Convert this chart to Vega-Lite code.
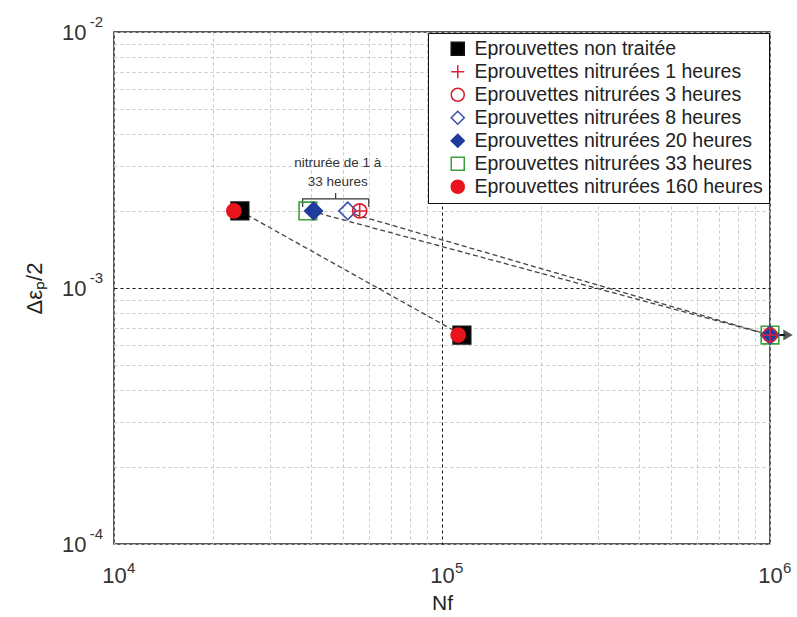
{
  "$schema": "https://vega.github.io/schema/vega-lite/v6.json",
  "width": 656,
  "height": 512,
  "autosize": {"type": "none"},
  "padding": {"left": 114, "top": 32, "right": 27, "bottom": 73},
  "background": "white",
  "config": {
    "font": "Liberation Sans",
    "view": {"stroke": "#222", "strokeWidth": 1.5}
  },
  "datasets": {
    "pts": [
      {"Nf": 24200, "eps": 0.002, "serie": "Eprouvettes non traitée"},
      {"Nf": 115000, "eps": 0.000655, "serie": "Eprouvettes non traitée"},
      {"Nf": 23200, "eps": 0.002, "serie": "Eprouvettes nitrurées 160 heures"},
      {"Nf": 112000, "eps": 0.000655, "serie": "Eprouvettes nitrurées 160 heures"},
      {"Nf": 39000, "eps": 0.002, "serie": "Eprouvettes nitrurées 33 heures"},
      {"Nf": 1000000, "eps": 0.000655, "serie": "Eprouvettes nitrurées 33 heures"},
      {"Nf": 40600, "eps": 0.002, "serie": "Eprouvettes nitrurées 20 heures"},
      {"Nf": 1000000, "eps": 0.000655, "serie": "Eprouvettes nitrurées 20 heures"},
      {"Nf": 51600, "eps": 0.002, "serie": "Eprouvettes nitrurées 8 heures"},
      {"Nf": 1000000, "eps": 0.000655, "serie": "Eprouvettes nitrurées 8 heures"},
      {"Nf": 56100, "eps": 0.002, "serie": "Eprouvettes nitrurées 3 heures"},
      {"Nf": 1000000, "eps": 0.000655, "serie": "Eprouvettes nitrurées 3 heures"},
      {"Nf": 56100, "eps": 0.002, "serie": "Eprouvettes nitrurées 1 heures"},
      {"Nf": 1000000, "eps": 0.000655, "serie": "Eprouvettes nitrurées 1 heures"}
    ],
    "lines": [
      {"g": "a", "Nf": 24200, "eps": 0.002},
      {"g": "a", "Nf": 115000, "eps": 0.000655},
      {"g": "b", "Nf": 42000, "eps": 0.00196},
      {"g": "b", "Nf": 1000000, "eps": 0.000655},
      {"g": "c", "Nf": 54000, "eps": 0.00194},
      {"g": "c", "Nf": 1000000, "eps": 0.000655}
    ],
    "bracket": [
      {"o": 1, "Nf": 37600, "eps": 0.00207},
      {"o": 2, "Nf": 37600, "eps": 0.00223},
      {"o": 3, "Nf": 59800, "eps": 0.00223},
      {"o": 4, "Nf": 59800, "eps": 0.00207}
    ],
    "tick": [
      {"Nf": 47400, "eps": 0.00223},
      {"Nf": 47400, "eps": 0.00235}
    ],
    "notes": [
      {"Nf": 48100, "eps": 0.00308, "txt": "nitrurée de 1 à"},
      {"Nf": 48100, "eps": 0.00260, "txt": "33 heures"}
    ],
    "xexp": [
      {"Nf": 10000, "eps": 0.0001, "e": "4"},
      {"Nf": 100000, "eps": 0.0001, "e": "5"},
      {"Nf": 1000000, "eps": 0.0001, "e": "6"}
    ],
    "yexp": [
      {"Nf": 10000, "eps": 0.0001, "e": "-4"},
      {"Nf": 10000, "eps": 0.001, "e": "-3"},
      {"Nf": 10000, "eps": 0.01, "e": "-2"}
    ],
    "arrow": [
      {"Nf": 1030000, "Nf2": 1110000, "eps": 0.000655}
    ],
    "head": [
      {"Nf": 1135000, "eps": 0.000655}
    ]
  },
  "layer": [
    {
      "data": {"name": "lines"},
      "mark": {"type": "line", "color": "#444", "strokeWidth": 1.3, "strokeDash": [5, 3]},
      "encoding": {
        "x": {
          "field": "Nf", "type": "quantitative",
          "scale": {"type": "log", "domain": [10000, 1000000], "nice": false},
          "axis": {
            "title": "Nf", "titleFontSize": 21, "titleFontWeight": "normal", "titleColor": "#222", "titlePadding": 6,
            "values": [10000, 20000, 30000, 40000, 50000, 60000, 70000, 80000, 90000, 100000, 200000, 300000, 400000, 500000, 600000, 700000, 800000, 900000, 1000000],
            "labelExpr": "datum.value == 10000 || datum.value == 100000 || datum.value == 1000000 ? '10' : ''",
            "labelFontSize": 22, "labelColor": "#333", "labelPadding": 21, "labelFlush": false, "labelOverlap": false,
            "ticks": false, "domain": false,
            "grid": true,
            "gridColor": {"condition": {"test": "datum.value == 100000", "value": "#111"}, "value": "#c8c8c8"},
            "gridDash": [3, 3],
            "gridWidth": 1
          }
        },
        "y": {
          "field": "eps", "type": "quantitative",
          "scale": {"type": "log", "domain": [0.0001, 0.01], "nice": false},
          "axis": {
            "title": "Δεₚ/2", "titleFontSize": 22, "titleFontWeight": "normal", "titleColor": "#222", "titlePadding": 15,
            "values": [0.0001, 0.0002, 0.0003, 0.0004, 0.0005, 0.0006, 0.0007, 0.0008, 0.0009, 0.001, 0.002, 0.003, 0.004, 0.005, 0.006, 0.007, 0.008, 0.009, 0.01],
            "labelExpr": "datum.value == 0.0001 || datum.value == 0.001 || datum.value == 0.01 ? '10' : ''",
            "labelFontSize": 22, "labelColor": "#333", "labelPadding": 28, "labelOverlap": false, "labelFlush": false,
            "ticks": false, "domain": false,
            "grid": true,
            "gridColor": {"condition": {"test": "datum.value == 0.001", "value": "#111"}, "value": "#c8c8c8"},
            "gridDash": [3, 3],
            "gridWidth": 1
          }
        },
        "detail": {"field": "g"}
      }
    },
    {
      "data": {"name": "xexp"},
      "mark": {"type": "text", "fontSize": 15, "color": "#333", "align": "left", "baseline": "top", "dx": 13, "dy": 17, "clip": false},
      "encoding": {
        "x": {"field": "Nf", "type": "quantitative"},
        "y": {"field": "eps", "type": "quantitative"},
        "text": {"field": "e"}
      }
    },
    {
      "data": {"name": "yexp"},
      "mark": {"type": "text", "fontSize": 15, "color": "#333", "align": "right", "baseline": "bottom", "dx": -11, "dy": -2, "clip": false},
      "encoding": {
        "x": {"field": "Nf", "type": "quantitative"},
        "y": {"field": "eps", "type": "quantitative"},
        "text": {"field": "e"}
      }
    },
    {
      "data": {"name": "bracket"},
      "mark": {"type": "line", "color": "#333", "strokeWidth": 1.2},
      "encoding": {
        "x": {"field": "Nf", "type": "quantitative"},
        "y": {"field": "eps", "type": "quantitative"},
        "order": {"field": "o"}
      }
    },
    {
      "data": {"name": "tick"},
      "mark": {"type": "line", "color": "#333", "strokeWidth": 1.2},
      "encoding": {
        "x": {"field": "Nf", "type": "quantitative"},
        "y": {"field": "eps", "type": "quantitative"}
      }
    },
    {
      "data": {"name": "notes"},
      "mark": {"type": "text", "fontSize": 13.5, "color": "#333", "align": "center", "baseline": "middle"},
      "encoding": {
        "x": {"field": "Nf", "type": "quantitative"},
        "y": {"field": "eps", "type": "quantitative"},
        "text": {"field": "txt"}
      }
    },
    {
      "data": {"name": "arrow"},
      "mark": {"type": "rule", "color": "#111", "strokeWidth": 2, "clip": false},
      "encoding": {
        "x": {"field": "Nf", "type": "quantitative"},
        "x2": {"field": "Nf2"},
        "y": {"field": "eps", "type": "quantitative"}
      }
    },
    {
      "data": {"name": "head"},
      "mark": {"type": "point", "shape": "triangle-right", "filled": true, "color": "#111", "size": 120, "clip": false},
      "encoding": {
        "x": {"field": "Nf", "type": "quantitative"},
        "y": {"field": "eps", "type": "quantitative"}
      }
    },
    {
      "data": {"name": "pts"},
      "transform": [{"filter": "indexof(datum.serie, 'heures') < 0 || indexof(datum.serie, ' 8 ') >= 0 || indexof(datum.serie, ' 20 ') >= 0 || indexof(datum.serie, ' 33 ') >= 0"}],
      "mark": {"type": "point", "filled": true, "strokeWidth": 1.6, "opacity": 1, "size": 310},
      "encoding": {
        "x": {"field": "Nf", "type": "quantitative"},
        "y": {"field": "eps", "type": "quantitative"},
        "shape": {
          "field": "serie", "type": "nominal",
          "scale": {
            "domain": ["Eprouvettes non traitée", "Eprouvettes nitrurées 1 heures", "Eprouvettes nitrurées 3 heures", "Eprouvettes nitrurées 8 heures", "Eprouvettes nitrurées 20 heures", "Eprouvettes nitrurées 33 heures", "Eprouvettes nitrurées 160 heures"],
            "range": ["square", "M-1,0H1M0,-1V1", "circle", "diamond", "diamond", "square", "circle"]
          },
          "legend": {"title": null, "orient": "none", "legendX": 314, "legendY": 1, "strokeColor": "#111", "fillColor": "white", "padding": 6, "labelFontSize": 19.5, "labelColor": "#222", "labelLimit": 400, "rowPadding": 2, "symbolSize": 170, "symbolStrokeWidth": 1.5, "labelOffset": 7, "symbolOffset": 14}
        },
        "fill": {
          "field": "serie", "type": "nominal",
          "scale": {
            "domain": ["Eprouvettes non traitée", "Eprouvettes nitrurées 1 heures", "Eprouvettes nitrurées 3 heures", "Eprouvettes nitrurées 8 heures", "Eprouvettes nitrurées 20 heures", "Eprouvettes nitrurées 33 heures", "Eprouvettes nitrurées 160 heures"],
            "range": ["#000000", "#ffffff00", "#ffffff00", "#ffffff00", "#1f3c9c", "#ffffff00", "#e8141c"]
          },
          "legend": {"title": null, "orient": "none", "legendX": 314, "legendY": 1, "strokeColor": "#111", "fillColor": "white", "padding": 6, "labelFontSize": 19.5, "labelColor": "#222", "labelLimit": 400, "rowPadding": 2, "symbolSize": 170, "symbolStrokeWidth": 1.5, "labelOffset": 7, "symbolOffset": 14}
        },
        "stroke": {
          "field": "serie", "type": "nominal",
          "scale": {
            "domain": ["Eprouvettes non traitée", "Eprouvettes nitrurées 1 heures", "Eprouvettes nitrurées 3 heures", "Eprouvettes nitrurées 8 heures", "Eprouvettes nitrurées 20 heures", "Eprouvettes nitrurées 33 heures", "Eprouvettes nitrurées 160 heures"],
            "range": ["#111111", "#e0203a", "#d8202c", "#3850b0", "#1f3c9c", "#3ca03c", "#e8141c"]
          },
          "legend": {"title": null, "orient": "none", "legendX": 314, "legendY": 1, "strokeColor": "#111", "fillColor": "white", "padding": 6, "labelFontSize": 19.5, "labelColor": "#222", "labelLimit": 400, "rowPadding": 2, "symbolSize": 170, "symbolStrokeWidth": 1.5, "labelOffset": 7, "symbolOffset": 14}
        }
      }
    },
    {
      "data": {"name": "pts"},
      "transform": [{"filter": "indexof(datum.serie, ' 1 ') >= 0 || indexof(datum.serie, ' 3 ') >= 0 || indexof(datum.serie, ' 160 ') >= 0"}],
      "mark": {"type": "point", "filled": true, "strokeWidth": 1.6, "opacity": 1, "size": 200},
      "encoding": {
        "x": {"field": "Nf", "type": "quantitative"},
        "y": {"field": "eps", "type": "quantitative"},
        "shape": {"field": "serie", "type": "nominal"},
        "fill": {"field": "serie", "type": "nominal"},
        "stroke": {"field": "serie", "type": "nominal"}
      }
    }
  ]
}
